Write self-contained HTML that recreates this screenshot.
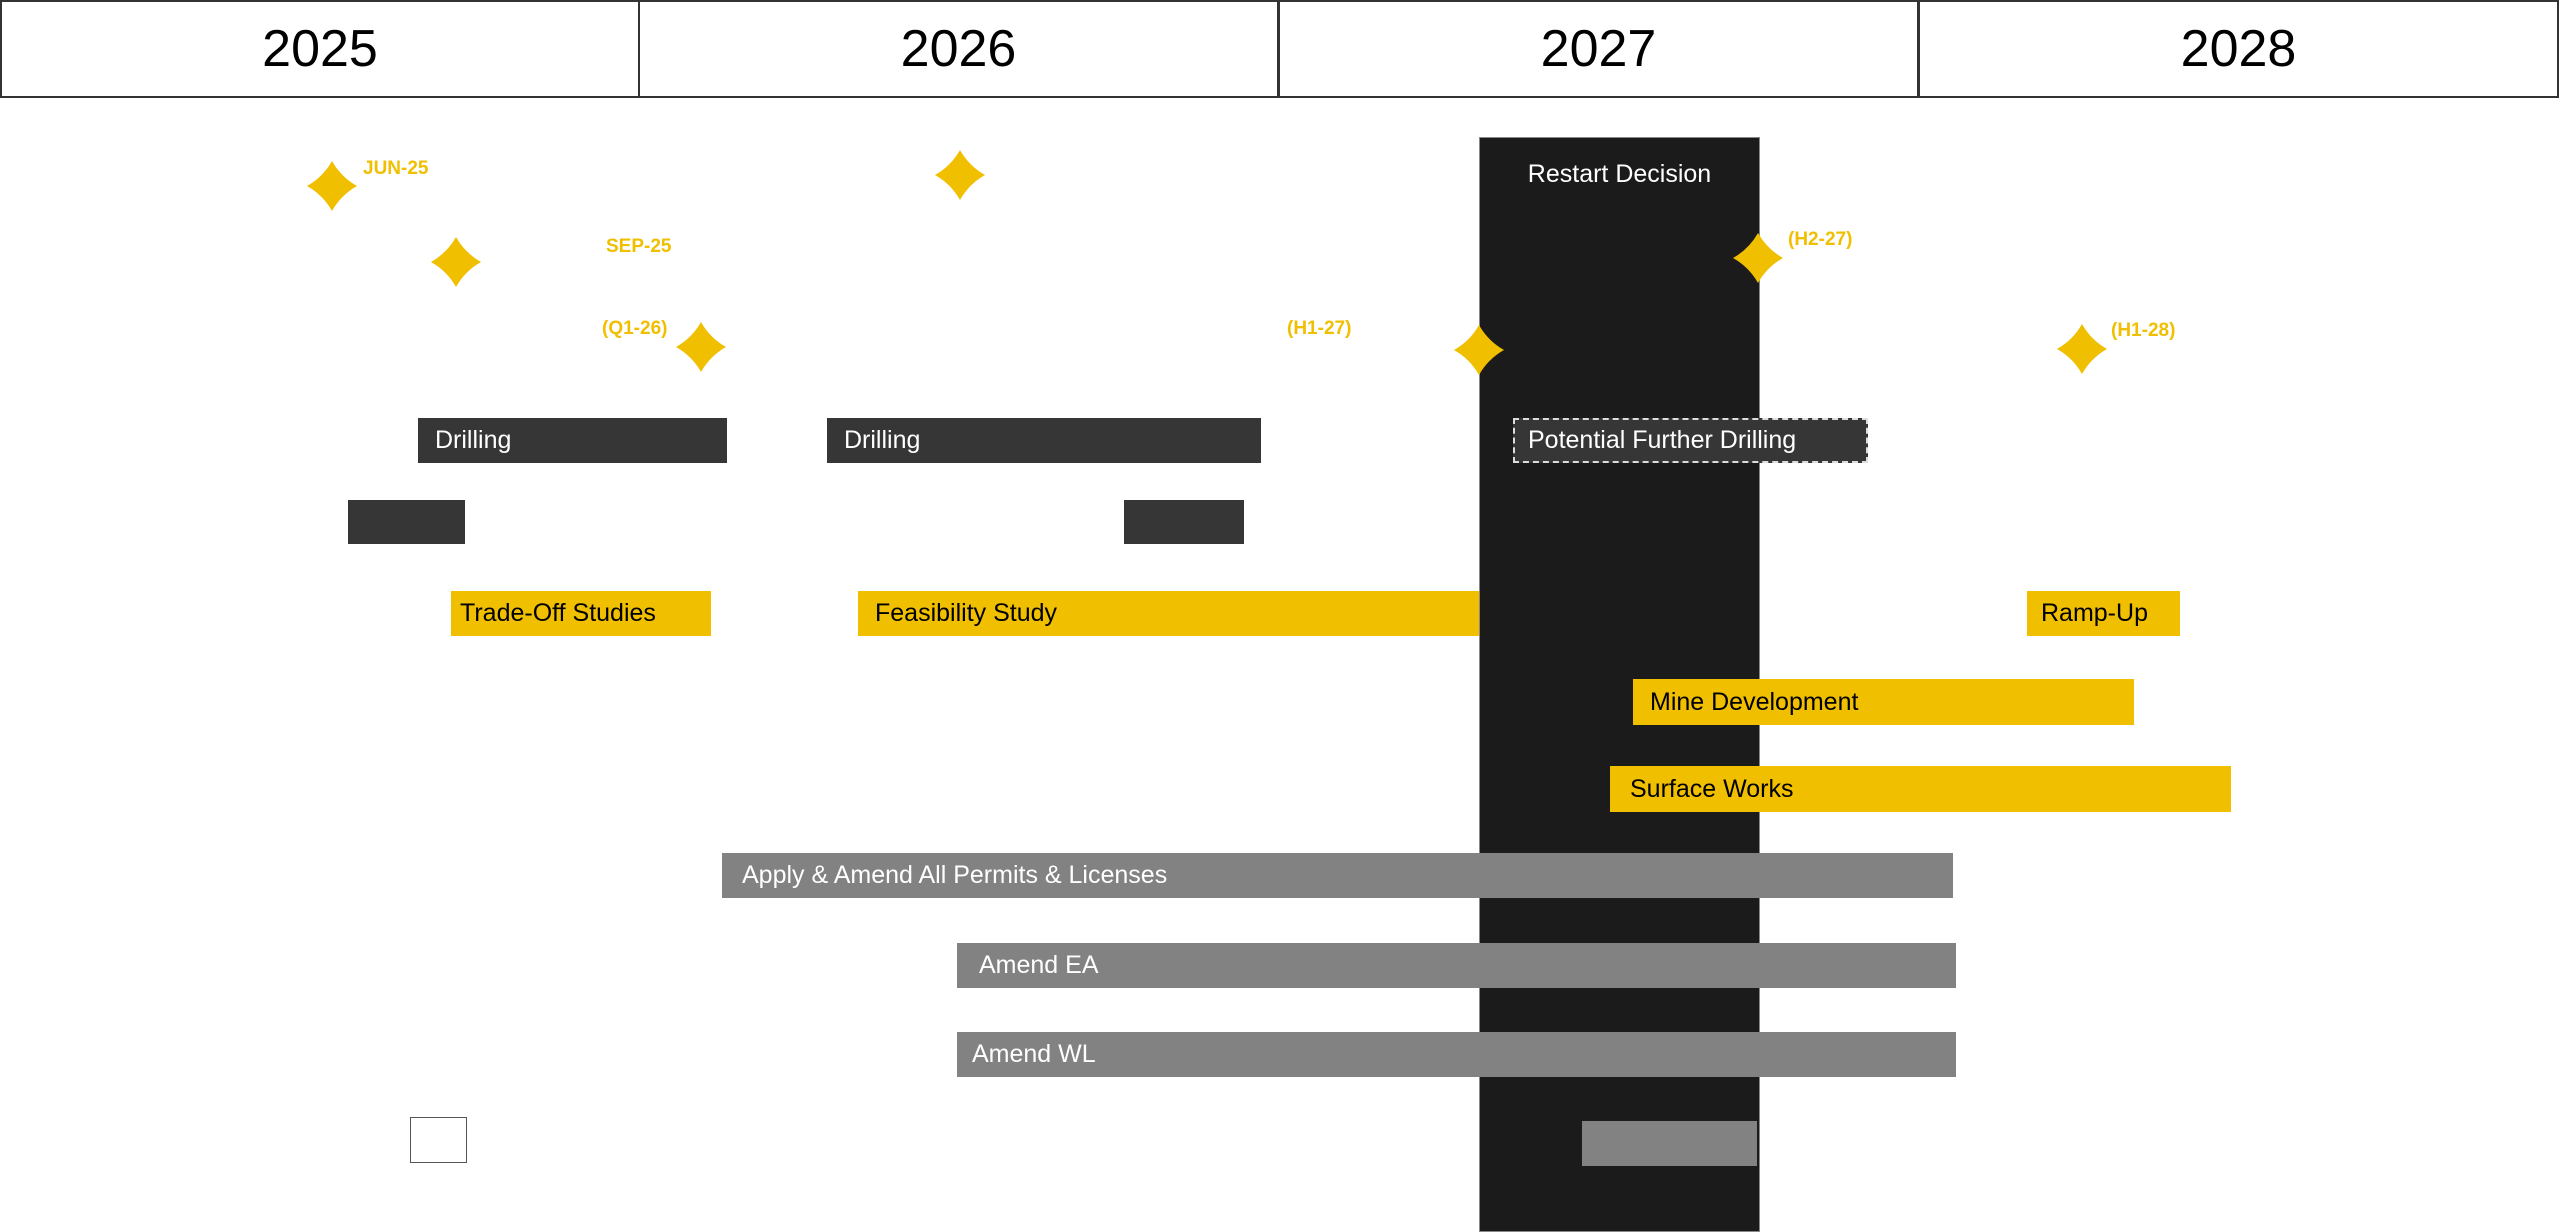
<!DOCTYPE html>
<html><head><meta charset="utf-8"><style>
*{margin:0;padding:0;box-sizing:border-box}
body{width:2560px;height:1232px;background:#fff;position:relative;overflow:hidden;font-family:"Liberation Sans",sans-serif}
.a{position:absolute}
.yr{position:absolute;top:0;height:98px;width:640px;border:2px solid #333;display:flex;align-items:center;justify-content:center;font-size:52px;color:#000}
.bar{position:absolute;display:flex;align-items:center;font-size:25px;padding-left:17px;white-space:nowrap}
.d{background:#363636;color:#fff}
.y{background:#f0bf00;color:#000}
.g{background:#828282;color:#fff}
.lbl{position:absolute;color:#f0bf00;font-weight:bold;font-size:19px;transform:translateY(-50%)}
</style></head><body>
<div class="yr" style="left:0">2025</div>
<div class="yr" style="left:639px;border-left:1px solid #333">2026</div>
<div class="yr" style="left:1279px;border-left:1px solid #333">2027</div>
<div class="yr" style="left:1919px;border-left:1px solid #333">2028</div>

<div class="a" style="left:1479px;top:137px;width:281px;height:1095px;background:#1b1b1b;border:1px solid #888"></div>
<div class="a" style="left:1479px;top:160px;width:281px;text-align:center;color:#fff;font-size:25px">Restart Decision</div>

<svg class="a" style="left:0;top:0" width="2560" height="1232">
<defs><path id="s" d="M0,-25 Q9,-9 25,0 Q9,9 0,25 Q-9,9 -25,0 Q-9,-9 0,-25Z" fill="#f0bf00"/></defs>
<use href="#s" x="332" y="186"/>
<use href="#s" x="456" y="262"/>
<use href="#s" x="701" y="347"/>
<use href="#s" x="960" y="175"/>
<use href="#s" x="1479" y="350"/>
<use href="#s" x="1758" y="258"/>
<use href="#s" x="2082" y="349"/>
</svg>
<div class="lbl" style="left:363px;top:169px">JUN-25</div>
<div class="lbl" style="left:606px;top:247px">SEP-25</div>
<div class="lbl" style="left:602px;top:329px">(Q1-26)</div>
<div class="lbl" style="left:1287px;top:329px">(H1-27)</div>
<div class="lbl" style="left:1788px;top:240px">(H2-27)</div>
<div class="lbl" style="left:2111px;top:331px">(H1-28)</div>

<div class="bar d" style="left:418px;top:418px;width:309px;height:45px">Drilling</div>
<div class="bar d" style="left:827px;top:418px;width:434px;height:45px">Drilling</div>
<div class="bar d" style="left:1513px;top:418px;width:355px;height:45px;border:2px dashed #ddd;padding-left:13px">Potential Further Drilling</div>
<div class="bar d" style="left:348px;top:500px;width:117px;height:44px"></div>
<div class="bar d" style="left:1124px;top:500px;width:120px;height:44px"></div>

<div class="bar y" style="left:451px;top:591px;width:260px;height:45px;padding-left:9px">Trade-Off Studies</div>
<div class="bar y" style="left:858px;top:591px;width:621px;height:45px">Feasibility Study</div>
<div class="bar y" style="left:2027px;top:591px;width:153px;height:45px;padding-left:14px">Ramp-Up</div>
<div class="bar y" style="left:1633px;top:679px;width:501px;height:46px">Mine Development</div>
<div class="bar y" style="left:1610px;top:766px;width:621px;height:46px;padding-left:20px">Surface Works</div>

<div class="bar g" style="left:722px;top:853px;width:1231px;height:45px;padding-left:20px">Apply &amp; Amend All Permits &amp; Licenses</div>
<div class="bar g" style="left:957px;top:943px;width:999px;height:45px;padding-left:22px">Amend EA</div>
<div class="bar g" style="left:957px;top:1032px;width:999px;height:45px;padding-left:15px">Amend WL</div>

<div class="a" style="left:410px;top:1117px;width:57px;height:46px;border:1px solid #555;background:#fff"></div>
<div class="a" style="left:1582px;top:1121px;width:175px;height:45px;background:#828282"></div>
</body></html>
